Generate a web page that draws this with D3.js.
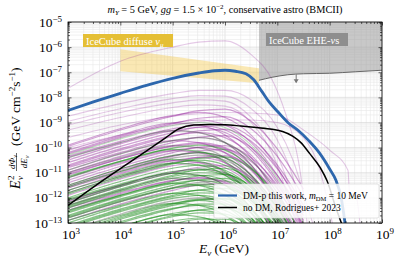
<!DOCTYPE html>
<html>
<head>
<meta charset="utf-8">
<script src="https://cdn.jsdelivr.net/npm/d3@7"></script>
<style>
  body { margin: 0; background: #fff; }
  svg { display: block; font-family: "Liberation Serif", "DejaVu Serif", serif; }
</style>
</head>
<body>
<div id="chart"></div>
<script>
// all values are log10(E / GeV), log10(E^2 dPhi/dE)
var xTickPowers = ['3', '4', '5', '6', '7', '8', '9'];
var yTickPowers = ['-13', '-12', '-11', '-10', '-9', '-8', '-7', '-6', '-5'];

var dmCurve = [[3,-8.52],[3.5,-8.17],[4,-7.84],[4.5,-7.52],[5,-7.24],[5.5,-7.03],[5.8,-6.94],[6,-6.92],[6.2,-6.96],[6.4,-7.06],
  [6.55,-7.3],[6.7,-7.75],[6.85,-8.2],[7,-8.55],[7.2,-9.0],[7.4,-9.32],[7.6,-9.72],[7.8,-10.2],[8,-10.85],[8.12,-11.3],[8.22,-12.0],[8.3,-13.1]];

var noDmCurve = [[3,-12.3],[3.6,-11.4],[4.24,-10.5],[4.87,-9.6],[5.12,-9.25],[5.4,-9.1],[5.7,-9.08],[6,-9.09],[6.3,-9.14],
  [6.6,-9.2],[6.9,-9.27],[7.1,-9.36],[7.3,-9.55],[7.45,-9.8],[7.62,-10.24],[7.82,-10.8],[7.95,-11.32],[8.12,-12.4],[8.26,-13.2]];

var diffuseTop = [[4,-6.08],[6.65,-6.84]];
var diffuseBottom = [[4,-6.96],[6.65,-7.44]];

var eheLimit = [[6.65,-7.32],[6.9,-7.2],[7.2,-7.1],[7.5,-7.06],[8,-7.04],[8.5,-6.98],[9,-6.92]];
var eheArrowE = 7.36;

// bright upper sources, own energy points
var upperPurple = [
  [[3,-7.64],[4,-6.56],[5,-6.0],[5.5,-5.8],[6,-5.75],[6.5,-6.3],[6.9,-7.3],[7.15,-8.6],[7.4,-10.5],[7.6,-13.5]],
  [[3,-8.75],[4,-8.25],[5,-7.85],[5.5,-7.72],[6,-7.72],[6.5,-8.1],[7,-9.2],[7.3,-10.5],[7.6,-12.5],[7.75,-13.5]],
  [[3,-8.95],[4,-8.45],[5,-8.05],[5.5,-7.93],[6,-7.95],[6.5,-8.45],[7,-9.7],[7.3,-11.2],[7.55,-13.5]],
  [[3,-9.1],[4,-8.6],[5,-8.22],[5.5,-8.1],[6,-8.15],[6.5,-8.8],[7,-10.3],[7.3,-12.0],[7.5,-13.5]],
  [[3,-9.3],[4,-8.8],[5,-8.4],[5.5,-8.3],[6,-8.35],[6.5,-9.0],[7,-10.7],[7.3,-12.6],[7.45,-13.5]],
  [[3,-9.6],[4,-9.1],[5,-8.75],[5.5,-8.65],[6,-8.6],[6.5,-8.62],[7,-8.7],[7.5,-9.3],[8,-10.1],[8.35,-10.9],[8.38,-11.8],[8.5,-11.9],[8.6,-13.5]],
  [[3,-10.0],[4,-9.5],[5,-9.1],[6,-8.9],[6.5,-8.9],[7,-9.0],[7.5,-9.6],[7.8,-10.8],[8.0,-12.5],[8.1,-13.5]]
];

// remaining sources on a shared energy grid
var gridE = [3, 4, 5, 5.5, 6, 6.5, 7, 7.5];

var purpleCurves = [
  [-9.95,-9.3,-8.75,-8.53,-8.47,-8.95,-10.05,-11.65],
  [-9.9,-9.25,-8.72,-8.6,-8.8,-9.5,-10.8,-12.6],
  [-10.25,-9.6,-9.05,-8.83,-8.77,-9.25,-10.35,-11.95],
  [-10.2,-9.55,-9.02,-8.9,-9.1,-9.8,-11.1,-12.9],
  [-10.1,-9.5,-9.02,-9.1,-9.5,-10.4,-12.0,-14],
  [-10.6,-9.95,-9.4,-9.18,-9.12,-9.6,-10.7,-12.3],
  [-10.5,-9.85,-9.32,-9.2,-9.4,-10.1,-11.4,-13.2],
  [-10.75,-10.1,-9.55,-9.33,-9.27,-9.75,-10.85,-12.45],
  [-10.4,-9.8,-9.32,-9.4,-9.8,-10.7,-12.3,-14.3],
  [-10.7,-10.05,-9.52,-9.4,-9.6,-10.3,-11.6,-13.4],
  [-11.0,-10.35,-9.8,-9.58,-9.52,-10.0,-11.1,-12.7],
  [-10.9,-10.25,-9.72,-9.6,-9.8,-10.5,-11.8,-13.6],
  [-10.8,-10.2,-9.72,-9.8,-10.2,-11.1,-12.7,-14.7],
  [-11.1,-10.45,-9.92,-9.8,-10.0,-10.7,-12.0,-13.8],
  [-11.4,-10.75,-10.2,-9.98,-9.92,-10.4,-11.5,-13.1],
  [-11.3,-10.65,-10.12,-10.0,-10.2,-10.9,-12.2,-14],
  [-11.55,-10.9,-10.35,-10.13,-10.07,-10.55,-11.65,-13.25],
  [-11.2,-10.6,-10.12,-10.2,-10.6,-11.5,-13.1,-15],
  [-11.5,-10.85,-10.32,-10.2,-10.4,-11.1,-12.4,-14.2],
  [-11.8,-11.15,-10.6,-10.38,-10.32,-10.8,-11.9,-13.5],
  [-11.7,-11.05,-10.52,-10.4,-10.6,-11.3,-12.6,-14.4],
  [-11.6,-11.0,-10.52,-10.6,-11.0,-11.9,-13.5,-15],
  [-11.9,-11.25,-10.72,-10.6,-10.8,-11.5,-12.8,-14.6],
  [-12.2,-11.55,-11.0,-10.78,-10.72,-11.2,-12.3,-13.9],
  [-12.15,-11.5,-10.97,-10.85,-11.05,-11.75,-13.05,-14.85],
  [-12.1,-11.5,-11.02,-11.1,-11.5,-12.4,-14,-15],
  [-12.5,-11.85,-11.32,-11.2,-11.4,-12.1,-13.4,-15],
  [-12.9,-12.25,-11.7,-11.48,-11.42,-11.9,-13.0,-14.6],
  [-10.35,-9.75,-9.25,-9.12,-9.3,-10.0,-11.3,-13.1],
  [-11.05,-10.45,-9.95,-9.85,-10.05,-10.85,-12.2,-14.1],
  [-12.4,-11.8,-11.3,-11.2,-11.35,-12.1,-13.5,-15]
];

var greenCurves = [
  [-10.3,-9.65,-9.12,-9.0,-9.2,-9.9,-11.2,-13.0],
  [-10.4,-9.8,-9.32,-9.4,-9.8,-10.7,-12.3,-14.3],
  [-10.9,-10.25,-9.72,-9.6,-9.8,-10.5,-11.8,-13.6],
  [-11.2,-10.55,-10.02,-9.9,-10.1,-10.8,-12.1,-13.9],
  [-11.15,-10.55,-10.07,-10.15,-10.55,-11.45,-13.05,-15],
  [-11.5,-10.85,-10.32,-10.2,-10.4,-11.1,-12.4,-14.2],
  [-11.85,-11.2,-10.65,-10.43,-10.37,-10.85,-11.95,-13.55],
  [-11.55,-10.95,-10.47,-10.55,-10.95,-11.85,-13.45,-15],
  [-11.8,-11.15,-10.62,-10.5,-10.7,-11.4,-12.7,-14.5],
  [-11.7,-11.1,-10.62,-10.7,-11.1,-12.0,-13.6,-15],
  [-12.0,-11.35,-10.82,-10.7,-10.9,-11.6,-12.9,-14.7],
  [-12.3,-11.65,-11.1,-10.88,-10.82,-11.3,-12.4,-14.0],
  [-12.2,-11.55,-11.02,-10.9,-11.1,-11.8,-13.1,-14.9],
  [-12.1,-11.5,-11.02,-11.1,-11.5,-12.4,-14,-15],
  [-12.55,-11.9,-11.35,-11.13,-11.07,-11.55,-12.65,-14.25],
  [-12.4,-11.75,-11.22,-11.1,-11.3,-12.0,-13.3,-15],
  [-12.7,-12.05,-11.5,-11.28,-11.22,-11.7,-12.8,-14.4],
  [-12.6,-11.95,-11.42,-11.3,-11.5,-12.2,-13.5,-15],
  [-12.5,-11.9,-11.42,-11.5,-11.9,-12.8,-14.4,-15],
  [-12.8,-12.15,-11.62,-11.5,-11.7,-12.4,-13.7,-15],
  [-13.1,-12.45,-11.9,-11.68,-11.62,-12.1,-13.2,-14.8],
  [-13.0,-12.35,-11.82,-11.7,-11.9,-12.6,-13.9,-15],
  [-12.9,-12.3,-11.82,-11.9,-12.3,-13.2,-14.8,-15],
  [-13.2,-12.55,-12.02,-11.9,-12.1,-12.8,-14.1,-15],
  [-13.5,-12.85,-12.3,-12.08,-12.02,-12.5,-13.6,-15],
  [-13.4,-12.75,-12.22,-12.1,-12.3,-13.0,-14.3,-15],
  [-13.3,-12.7,-12.22,-12.3,-12.7,-13.6,-15,-15],
  [-13.6,-12.95,-12.42,-12.3,-12.5,-13.2,-14.5,-15],
  [-13.9,-13.25,-12.7,-12.48,-12.42,-12.9,-14.0,-15],
  [-13.8,-13.15,-12.62,-12.5,-12.7,-13.4,-14.7,-15],
  [-13.75,-13.15,-12.67,-12.75,-13.15,-14.05,-15,-15],
  [-14.1,-13.45,-12.92,-12.8,-13.0,-13.7,-15,-15],
  [-14.45,-13.8,-13.25,-13.03,-12.97,-13.45,-14.5,-15],
  [-12.05,-11.45,-10.95,-10.85,-11.0,-11.7,-13.0,-14.8],
  [-12.75,-12.1,-11.6,-11.45,-11.5,-12.1,-13.3,-15],
  [-13.15,-12.5,-11.95,-11.8,-11.85,-12.45,-13.6,-15],
  [-13.65,-13.0,-12.45,-12.25,-12.25,-12.8,-13.9,-15],
  [-14.0,-13.3,-12.75,-12.6,-12.65,-13.2,-14.3,-15],
  [-12.35,-11.7,-11.15,-11.0,-11.05,-11.6,-12.8,-14.5],
  [-13.45,-12.8,-12.25,-12.05,-12.05,-12.6,-13.8,-15],
  [-14.3,-13.6,-13.05,-12.85,-12.85,-13.3,-14.4,-15]
];

var grayCurves = [
  [-11.6,-10.95,-10.42,-10.3,-10.5,-11.2,-12.5,-14.3],
  [-12.3,-11.7,-11.22,-11.3,-11.7,-12.6,-14.2,-15],
  [-12.8,-12.15,-11.6,-11.38,-11.32,-11.8,-12.9,-14.5],
  [-13.3,-12.65,-12.12,-12.0,-12.2,-12.9,-14.2,-15],
  [-11.0,-10.4,-9.92,-10.0,-10.4,-11.3,-12.9,-14.9]
];

var W = 396, H = 264;
var padL = 68, padR = 382, padT = 22, padB = 223;

var svg = d3.select('#chart').append('svg')
  .attr('width', W)
  .attr('height', H);

var x = d3.scaleLog().domain([1e3, 1e9]).range([padL, padR]);
var y = d3.scaleLog().domain([1e-13, 1e-5]).range([padB, padT]);

var px = function(d) { return x(Math.pow(10, d[0])); };
var py = function(d) { return y(Math.pow(10, d[1])); };

var line = d3.line().x(px).y(py).curve(d3.curveMonotoneX);
var onGrid = function(vals) { return vals.map(function(v, i) { return [gridE[i], v]; }); };

svg.append('defs').append('clipPath').attr('id', 'plot')
  .append('rect')
  .attr('x', padL).attr('y', padT)
  .attr('width', padR - padL).attr('height', padB - padT);

// grid
var xAll = x.ticks(), yAll = y.ticks();
var isMajor = function(v) { return Math.abs(Math.log10(v) - Math.round(Math.log10(v))) < 1e-6; };

var grid = svg.append('g');
grid.selectAll('.gx').data(xAll).enter().append('line')
  .attr('x1', function(d) { return x(d); }).attr('x2', function(d) { return x(d); })
  .attr('y1', padT).attr('y2', padB)
  .attr('stroke', function(d) { return isMajor(d) ? '#d4d4d4' : '#e8e8e8'; })
  .attr('stroke-width', 0.6);
grid.selectAll('.gy').data(yAll).enter().append('line')
  .attr('y1', function(d) { return y(d); }).attr('y2', function(d) { return y(d); })
  .attr('x1', padL).attr('x2', padR)
  .attr('stroke', function(d) { return isMajor(d) ? '#d4d4d4' : '#e8e8e8'; })
  .attr('stroke-width', 0.6);

var plot = svg.append('g').attr('clip-path', 'url(#plot)');

// IceCube diffuse band
plot.append('path')
  .datum(diffuseTop.concat(diffuseBottom.slice().reverse()))
  .attr('d', d3.line().x(px).y(py))
  .attr('fill', '#f2c94c')
  .attr('fill-opacity', 0.42);

// EHE excluded region
plot.append('path')
  .datum(eheLimit)
  .attr('d', d3.area().x(px).y0(padT).y1(py).curve(d3.curveMonotoneX))
  .attr('fill', '#9a9a9a')
  .attr('fill-opacity', 0.55);

// source curves
plot.selectAll('.up').data(upperPurple).enter().append('path')
  .attr('d', line)
  .attr('fill', 'none')
  .attr('stroke', '#93219a')
  .attr('stroke-width', 1.1)
  .attr('stroke-opacity', 0.24);

plot.selectAll('.pc').data(purpleCurves.map(onGrid)).enter().append('path')
  .attr('d', line)
  .attr('fill', 'none')
  .attr('stroke', '#93219a')
  .attr('stroke-width', 1.2)
  .attr('stroke-opacity', 0.42);

plot.selectAll('.gc').data(greenCurves.map(onGrid)).enter().append('path')
  .attr('d', line)
  .attr('fill', 'none')
  .attr('stroke', '#168c16')
  .attr('stroke-width', 1.2)
  .attr('stroke-opacity', function(d, i) { return i < 3 ? 0.25 : 0.5; });

plot.selectAll('.sc').data(grayCurves.map(onGrid)).enter().append('path')
  .attr('d', line)
  .attr('fill', 'none')
  .attr('stroke', '#555555')
  .attr('stroke-width', 1.2)
  .attr('stroke-opacity', 0.4);

plot.append('path').datum(noDmCurve)
  .attr('d', line)
  .attr('fill', 'none')
  .attr('stroke', '#000')
  .attr('stroke-width', 1.5);

plot.append('path').datum(dmCurve)
  .attr('d', line)
  .attr('fill', 'none')
  .attr('stroke', '#2d67ad')
  .attr('stroke-width', 2.8);

// EHE limit line + arrow
plot.append('path').datum(eheLimit)
  .attr('d', line)
  .attr('fill', 'none')
  .attr('stroke', '#666')
  .attr('stroke-width', 1);

var ax = x(Math.pow(10, eheArrowE));
var ay = y(Math.pow(10, -7.08));
svg.append('line')
  .attr('x1', ax).attr('x2', ax).attr('y1', ay).attr('y2', ay + 8)
  .attr('stroke', '#777').attr('stroke-width', 1);
svg.append('path')
  .attr('d', 'M' + (ax - 2.5) + ',' + (ay + 5) + 'L' + ax + ',' + (ay + 9) + 'L' + (ax + 2.5) + ',' + (ay + 5) + 'Z')
  .attr('fill', '#777');

// label boxes
svg.append('rect').attr('x', 83).attr('y', 34).attr('width', 90).attr('height', 13).attr('fill', '#e5bf35');
var t1 = svg.append('text').attr('x', 86).attr('y', 44.5).attr('fill', '#fff').attr('font-size', 10.5);
t1.append('tspan').text('IceCube diffuse ');
t1.append('tspan').attr('font-style', 'italic').text('ν');
t1.append('tspan').attr('font-style', 'italic').attr('font-size', 7).attr('dy', 2).text('μ');

svg.append('rect').attr('x', 266).attr('y', 33).attr('width', 82).attr('height', 13).attr('fill', '#8e8e8e');
var t2 = svg.append('text').attr('x', 269).attr('y', 43.5).attr('fill', '#fff').attr('font-size', 10.5);
t2.append('tspan').text('IceCube EHE-');
t2.append('tspan').attr('font-style', 'italic').text('ν');
t2.append('tspan').text('s');

// axes, ticks inward on all sides
var xMajor = xAll.filter(isMajor), xMinor = xAll.filter(function(d) { return !isMajor(d); });
var yMajor = yAll.filter(isMajor), yMinor = yAll.filter(function(d) { return !isMajor(d); });
var noLab = function() { return ''; };

function addAxis(axisFn, scale, major, minor, tx, ty) {
  var g = svg.append('g').attr('transform', 'translate(' + tx + ',' + ty + ')');
  g.call(axisFn(scale).tickValues(major).tickSizeInner(-3.5).tickSizeOuter(0).tickFormat(noLab));
  g.append('g').call(axisFn(scale).tickValues(minor).tickSizeInner(-2).tickSizeOuter(0).tickFormat(noLab));
  g.selectAll('.domain').remove();
  g.selectAll('line').attr('stroke', '#000').attr('stroke-width', 0.6);
}
addAxis(d3.axisBottom, x, xMajor, xMinor, 0, padB);
addAxis(d3.axisTop, x, xMajor, xMinor, 0, padT);
addAxis(d3.axisLeft, y, yMajor, yMinor, padL, 0);
addAxis(d3.axisRight, y, yMajor, yMinor, padR, 0);

svg.append('rect')
  .attr('x', padL).attr('y', padT)
  .attr('width', padR - padL).attr('height', padB - padT)
  .attr('fill', 'none').attr('stroke', '#000').attr('stroke-width', 0.8);

// tick labels
xTickPowers.forEach(function(p) {
  var t = svg.append('text')
    .attr('x', x(Math.pow(10, +p)) + 3)
    .attr('y', 239)
    .attr('text-anchor', 'middle')
    .attr('font-size', 13.5);
  t.append('tspan').text('10');
  t.append('tspan').attr('dy', -5).attr('font-size', 9).text(p.replace('-', '\u2212'));
});
yTickPowers.forEach(function(p) {
  var t = svg.append('text')
    .attr('x', 62)
    .attr('y', y(Math.pow(10, +p)) + 4.5)
    .attr('text-anchor', 'end')
    .attr('font-size', 13.5);
  t.append('tspan').text('10');
  t.append('tspan').attr('dy', -5).attr('font-size', 9).text(p.replace('-', '\u2212'));
});

// title
var title = svg.append('text').attr('x', 225).attr('y', 13).attr('text-anchor', 'middle').attr('font-size', 10.3);
title.append('tspan').attr('font-style', 'italic').text('m');
title.append('tspan').attr('font-style', 'italic').attr('font-size', 7).attr('dy', 2).text('Y');
title.append('tspan').attr('dy', -2).text(' = 5 GeV, ');
title.append('tspan').attr('font-style', 'italic').text('gg');
title.append('tspan').text(' = 1.5 × 10');
title.append('tspan').attr('dy', -4).attr('font-size', 7).text('\u22122');
title.append('tspan').attr('dy', 4).text(', conservative astro (BMCII)');

// x label
var xl = svg.append('text').attr('x', 224).attr('y', 253).attr('text-anchor', 'middle').attr('font-size', 13.5);
xl.append('tspan').attr('font-style', 'italic').text('E');
xl.append('tspan').attr('font-style', 'italic').attr('font-size', 9).attr('dy', 3).text('ν');
xl.append('tspan').attr('dy', -3).text(' (GeV)');

// y label
var yl = svg.append('g').attr('transform', 'translate(20,124) rotate(-90)');
yl.append('text').attr('x', -65).attr('y', 0).attr('font-size', 14).attr('font-style', 'italic').text('E');
yl.append('text').attr('x', -56).attr('y', -6).attr('font-size', 9).text('2');
yl.append('text').attr('x', -56).attr('y', 3).attr('font-size', 9).attr('font-style', 'italic').text('ν');
var fr = yl.append('g').attr('font-size', 9).attr('font-style', 'italic').attr('text-anchor', 'middle');
var numT = fr.append('text').attr('x', -38).attr('y', -5);
numT.append('tspan').text('d\u03A6');
numT.append('tspan').attr('font-size', 6).attr('dy', 2).text('ν');
var denT = fr.append('text').attr('x', -38).attr('y', 7);
denT.append('tspan').text('dE');
denT.append('tspan').attr('font-size', 6).attr('dy', 2).text('ν');
yl.append('line').attr('x1', -47).attr('x2', -29).attr('y1', -3.5).attr('y2', -3.5).attr('stroke', '#000').attr('stroke-width', 0.6);
var unit = yl.append('text').attr('x', -22).attr('y', 0).attr('font-size', 13.5);
unit.append('tspan').text('(GeV cm');
unit.append('tspan').attr('dy', -5).attr('font-size', 9).text('\u22122');
unit.append('tspan').attr('dy', 5).text('s');
unit.append('tspan').attr('dy', -5).attr('font-size', 9).text('\u22121');
unit.append('tspan').attr('dy', 5).text(')');

// legend
var lg = svg.append('g');
lg.append('rect').attr('x', 214).attr('y', 184).attr('width', 165).attr('height', 34).attr('rx', 2)
  .attr('fill', '#fff').attr('fill-opacity', 0.85).attr('stroke', '#d0d0d0').attr('stroke-width', 0.6);
lg.append('line').attr('x1', 218).attr('x2', 237).attr('y1', 195.5).attr('y2', 195.5).attr('stroke', '#2d67ad').attr('stroke-width', 2.2);
lg.append('line').attr('x1', 218).attr('x2', 237).attr('y1', 207.5).attr('y2', 207.5).attr('stroke', '#000').attr('stroke-width', 1.5);
var l1 = lg.append('text').attr('x', 243).attr('y', 198.5).attr('font-size', 9.5);
l1.append('tspan').text('DM-p this work, ');
l1.append('tspan').attr('font-style', 'italic').text('m');
l1.append('tspan').attr('font-size', 6.5).attr('dy', 2).text('DM');
l1.append('tspan').attr('dy', -2).text(' = 10 MeV');
lg.append('text').attr('x', 243).attr('y', 210.5).attr('font-size', 9.5).text('no DM, Rodrigues+ 2023');
</script>
</body>
</html>
